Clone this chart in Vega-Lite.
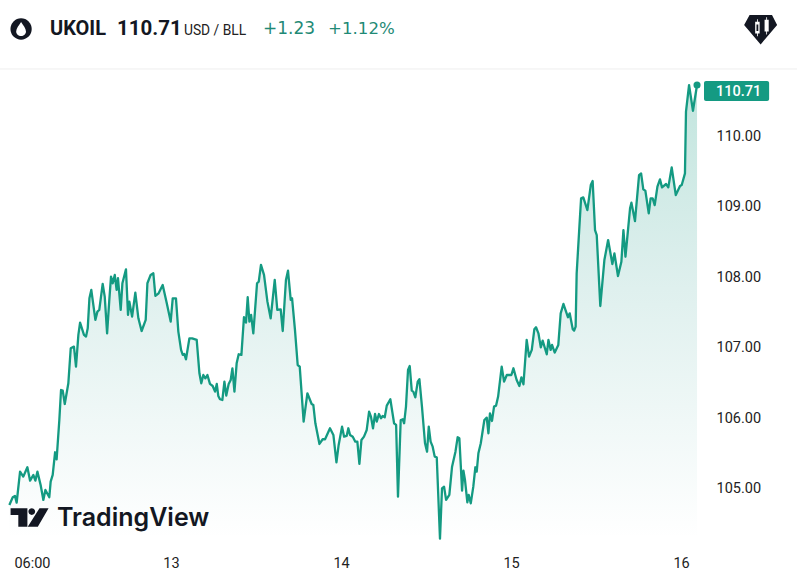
{"$schema":"https://vega.github.io/schema/vega-lite/v6.json","width":797,"height":578,"autosize":{"type":"none"},"padding":0,"background":"white","view":{"stroke":null},
"config":{"font":"Roboto"},
"datasets":{"series":[
{"t":12.049,"v":104.752},{"t":12.069,"v":104.861},{"t":12.082,"v":104.88},{"t":12.092,"v":104.785},{"t":12.112,"v":105.225},{"t":12.131,"v":105.154},{"t":12.155,"v":105.287},{"t":12.171,"v":105.097},{"t":12.19,"v":105.178},{"t":12.202,"v":105.097},{"t":12.214,"v":105.225},{"t":12.233,"v":105.036},{"t":12.249,"v":104.823},{"t":12.261,"v":104.965},{"t":12.284,"v":104.861},{"t":12.292,"v":105.083},{"t":12.304,"v":105.178},{"t":12.318,"v":105.5},{"t":12.327,"v":105.4},{"t":12.343,"v":105.959},{"t":12.353,"v":106.385},{"t":12.363,"v":106.376},{"t":12.375,"v":106.186},{"t":12.396,"v":106.48},{"t":12.41,"v":106.977},{"t":12.429,"v":107.001},{"t":12.441,"v":106.717},{"t":12.455,"v":107.167},{"t":12.465,"v":107.342},{"t":12.488,"v":107.167},{"t":12.5,"v":107.143},{"t":12.51,"v":107.261},{"t":12.52,"v":107.687},{"t":12.531,"v":107.806},{"t":12.555,"v":107.38},{"t":12.567,"v":107.498},{"t":12.578,"v":107.522},{"t":12.598,"v":107.891},{"t":12.61,"v":107.711},{"t":12.624,"v":107.19},{"t":12.637,"v":107.664},{"t":12.647,"v":107.995},{"t":12.657,"v":107.901},{"t":12.669,"v":108.019},{"t":12.68,"v":107.806},{"t":12.688,"v":107.972},{"t":12.704,"v":107.522},{"t":12.714,"v":107.901},{"t":12.735,"v":108.099},{"t":12.747,"v":107.451},{"t":12.755,"v":107.64},{"t":12.771,"v":107.427},{"t":12.79,"v":107.768},{"t":12.808,"v":107.403},{"t":12.827,"v":107.223},{"t":12.851,"v":107.38},{"t":12.861,"v":107.901},{"t":12.88,"v":108.019},{"t":12.896,"v":108.043},{"t":12.908,"v":107.721},{"t":12.927,"v":107.758},{"t":12.951,"v":107.877},{"t":12.975,"v":107.616},{"t":12.998,"v":107.356},{"t":13.01,"v":107.687},{"t":13.029,"v":107.687},{"t":13.043,"v":107.214},{"t":13.059,"v":106.954},{"t":13.069,"v":106.883},{"t":13.078,"v":106.897},{"t":13.088,"v":106.821},{"t":13.108,"v":107.119},{"t":13.124,"v":107.119},{"t":13.151,"v":107.096},{"t":13.167,"v":106.622},{"t":13.178,"v":106.48},{"t":13.19,"v":106.598},{"t":13.202,"v":106.551},{"t":13.214,"v":106.598},{"t":13.229,"v":106.471},{"t":13.245,"v":106.442},{"t":13.259,"v":106.362},{"t":13.269,"v":106.471},{"t":13.278,"v":106.3},{"t":13.288,"v":106.253},{"t":13.302,"v":106.243},{"t":13.314,"v":106.504},{"t":13.325,"v":106.305},{"t":13.339,"v":106.471},{"t":13.351,"v":106.527},{"t":13.361,"v":106.693},{"t":13.373,"v":106.362},{"t":13.386,"v":106.764},{"t":13.398,"v":106.892},{"t":13.414,"v":106.883},{"t":13.429,"v":107.418},{"t":13.441,"v":107.342},{"t":13.451,"v":107.702},{"t":13.461,"v":107.356},{"t":13.471,"v":107.451},{"t":13.484,"v":107.19},{"t":13.506,"v":107.901},{"t":13.516,"v":107.924},{"t":13.529,"v":108.161},{"t":13.547,"v":108.019},{"t":13.567,"v":107.64},{"t":13.586,"v":107.403},{"t":13.61,"v":107.948},{"t":13.625,"v":107.522},{"t":13.645,"v":107.531},{"t":13.657,"v":107.223},{"t":13.676,"v":107.948},{"t":13.688,"v":108.08},{"t":13.704,"v":107.664},{"t":13.712,"v":107.687},{"t":13.729,"v":107.238},{"t":13.745,"v":106.74},{"t":13.757,"v":106.717},{"t":13.78,"v":105.936},{"t":13.802,"v":106.338},{"t":13.827,"v":106.186},{"t":13.837,"v":106.172},{"t":13.849,"v":105.912},{"t":13.873,"v":105.618},{"t":13.892,"v":105.685},{"t":13.906,"v":105.685},{"t":13.935,"v":105.841},{"t":13.955,"v":105.746},{"t":13.973,"v":105.358},{"t":13.986,"v":105.604},{"t":14.006,"v":105.864},{"t":14.018,"v":105.722},{"t":14.033,"v":105.732},{"t":14.043,"v":105.841},{"t":14.053,"v":105.746},{"t":14.069,"v":105.722},{"t":14.084,"v":105.651},{"t":14.096,"v":105.651},{"t":14.108,"v":105.334},{"t":14.12,"v":105.675},{"t":14.135,"v":105.722},{"t":14.151,"v":105.817},{"t":14.165,"v":106.078},{"t":14.176,"v":106.007},{"t":14.188,"v":105.841},{"t":14.2,"v":106.044},{"t":14.21,"v":105.936},{"t":14.223,"v":106.044},{"t":14.235,"v":105.983},{"t":14.245,"v":106.016},{"t":14.257,"v":105.997},{"t":14.269,"v":106.163},{"t":14.29,"v":106.253},{"t":14.312,"v":105.912},{"t":14.324,"v":105.888},{"t":14.335,"v":104.87},{"t":14.351,"v":105.959},{"t":14.363,"v":105.969},{"t":14.371,"v":105.912},{"t":14.382,"v":106.149},{"t":14.394,"v":106.669},{"t":14.404,"v":106.726},{"t":14.416,"v":106.376},{"t":14.425,"v":106.362},{"t":14.437,"v":106.281},{"t":14.451,"v":106.504},{"t":14.461,"v":106.537},{"t":14.476,"v":106.149},{"t":14.494,"v":105.628},{"t":14.506,"v":105.509},{"t":14.516,"v":105.864},{"t":14.527,"v":105.651},{"t":14.539,"v":105.58},{"t":14.551,"v":105.438},{"t":14.563,"v":105.429},{"t":14.582,"v":104.274},{"t":14.594,"v":104.988},{"t":14.606,"v":105.012},{"t":14.618,"v":104.823},{"t":14.637,"v":104.894},{"t":14.653,"v":105.296},{"t":14.673,"v":105.509},{"t":14.686,"v":105.713},{"t":14.696,"v":105.699},{"t":14.712,"v":104.955},{"t":14.72,"v":105.239},{"t":14.729,"v":105.107},{"t":14.743,"v":104.79},{"t":14.751,"v":104.894},{"t":14.763,"v":104.775},{"t":14.778,"v":105.012},{"t":14.79,"v":105.287},{"t":14.798,"v":105.225},{"t":14.808,"v":105.486},{"t":14.822,"v":105.628},{"t":14.843,"v":105.959},{"t":14.857,"v":105.992},{"t":14.867,"v":105.77},{"t":14.876,"v":106.054},{"t":14.888,"v":105.945},{"t":14.9,"v":106.149},{"t":14.912,"v":106.163},{"t":14.924,"v":106.291},{"t":14.945,"v":106.717},{"t":14.959,"v":106.504},{"t":14.975,"v":106.598},{"t":15.002,"v":106.598},{"t":15.014,"v":106.693},{"t":15.033,"v":106.527},{"t":15.049,"v":106.442},{"t":15.061,"v":106.565},{"t":15.073,"v":106.466},{"t":15.092,"v":107.096},{"t":15.106,"v":106.859},{"t":15.122,"v":106.954},{"t":15.137,"v":107.247},{"t":15.147,"v":107.276},{"t":15.161,"v":107.19},{"t":15.175,"v":106.991},{"t":15.186,"v":107.086},{"t":15.21,"v":106.892},{"t":15.22,"v":107.096},{"t":15.233,"v":106.954},{"t":15.241,"v":107.025},{"t":15.257,"v":106.916},{"t":15.278,"v":107.025},{"t":15.292,"v":107.474},{"t":15.308,"v":107.607},{"t":15.335,"v":107.418},{"t":15.345,"v":107.474},{"t":15.363,"v":107.247},{"t":15.371,"v":107.228},{"t":15.38,"v":107.285},{"t":15.386,"v":108.042},{"t":15.402,"v":108.704},{"t":15.412,"v":109.107},{"t":15.425,"v":109.121},{"t":15.449,"v":108.941},{"t":15.469,"v":109.296},{"t":15.48,"v":109.353},{"t":15.494,"v":108.657},{"t":15.504,"v":108.586},{"t":15.525,"v":107.578},{"t":15.549,"v":108.231},{"t":15.571,"v":108.515},{"t":15.596,"v":108.174},{"t":15.608,"v":108.326},{"t":15.629,"v":108.004},{"t":15.649,"v":108.207},{"t":15.661,"v":108.657},{"t":15.673,"v":108.278},{"t":15.7,"v":108.965},{"t":15.708,"v":109.045},{"t":15.729,"v":108.785},{"t":15.753,"v":109.438},{"t":15.765,"v":109.462},{"t":15.778,"v":109.235},{"t":15.79,"v":109.216},{"t":15.81,"v":108.894},{"t":15.821,"v":109.107},{"t":15.833,"v":109.107},{"t":15.845,"v":109.012},{"t":15.861,"v":109.273},{"t":15.876,"v":109.377},{"t":15.888,"v":109.263},{"t":15.912,"v":109.311},{"t":15.925,"v":109.263},{"t":15.945,"v":109.547},{"t":15.969,"v":109.154},{"t":15.994,"v":109.282},{"t":16.004,"v":109.296},{"t":16.023,"v":109.462},{"t":16.029,"v":110.338},{"t":16.047,"v":110.717},{"t":16.07,"v":110.352},{"t":16.094,"v":110.717}
],
"ann":[{"id":"sep","label":""},{"id":"tag","label":""},{"id":"tagtext","label":"110.71"},{"id":"sym","label":"UKOIL"},{"id":"px","label":"110.71"},{"id":"unit","label":"USD / BLL"},{"id":"chg","label":"+1.23"},{"id":"pct","label":"+1.12%"},{"id":"disc","label":""},{"id":"drop","label":""},{"id":"gem","label":""},{"id":"tvm","label":""},{"id":"tv","label":"TradingView"}]},
"layer":[
{"data":{"name":"series"},"mark":{"type":"area","color":{"gradient":"linear","x1":0,"y1":0,"x2":0,"y2":1,"stops":[{"offset":0,"color":"#c2e5de"},{"offset":0.45,"color":"#dff0ee"},{"offset":1,"color":"#ffffff"}]}},"encoding":{
"x":{"field":"t","type":"quantitative","title":null,"scale":{"domain":[11.994,16.682],"nice":false,"zero":false},"axis":{"orient":"bottom","offset":-22,"values":[12.182,13,14,15,16],"labelExpr":"datum.value<13?'06:00':format(datum.value,'d')","domain":false,"ticks":false,"grid":false,"labelPadding":0,"labelFont":"Roboto","labelFontSize":14.5,"labelColor":"#222222","labelOverlap":false,"labelBound":false,"labelFlush":false}},
"y":{"field":"v","type":"quantitative","title":null,"scale":{"domain":[103.714,111.925],"nice":false,"zero":false},"axis":{"orient":"right","offset":-81,"values":[105,106,107,108,109,110],"format":".2f","domain":false,"ticks":false,"grid":false,"labelPadding":0,"labelOffset":1,"labelFont":"Roboto","labelFontSize":14.5,"labelColor":"#222222","labelAlign":"left"}},
"y2":{"datum":104.325}}},
{"data":{"name":"series"},"mark":{"type":"line","color":"#149a82","strokeWidth":2.3,"strokeJoin":"round"},"encoding":{"x":{"field":"t","type":"quantitative"},"y":{"field":"v","type":"quantitative"}}},
{"data":{"name":"series"},"transform":[{"filter":"datum.t>16.09"}],"mark":{"type":"point","filled":true,"color":"#149a82","size":50,"opacity":1,"strokeWidth":0},"encoding":{"x":{"field":"t","type":"quantitative"},"y":{"field":"v","type":"quantitative"}}},
{"data":{"name":"ann"},"transform":[{"filter":"datum.id==='sep'"}],"mark":{"type":"rule","color":"#eeeeee","strokeWidth":1},"encoding":{"x":{"datum":11.994,"type":"quantitative"},"x2":{"datum":16.682},"y":{"datum":110.945,"type":"quantitative"}}},
{"data":{"name":"ann"},"transform":[{"filter":"datum.id==='tag'"}],"mark":{"type":"rect","color":"#149a82","cornerRadius":2},"encoding":{"x":{"datum":16.135,"type":"quantitative"},"x2":{"datum":16.518},"y":{"datum":110.775,"type":"quantitative"},"y2":{"datum":110.49}}},
{"data":{"name":"ann"},"transform":[{"filter":"datum.id==='tagtext'"}],"mark":{"type":"text","align":"left","baseline":"middle","color":"white","fontSize":14.5,"fontWeight":500},"encoding":{"text":{"field":"label"},"x":{"datum":16.206,"type":"quantitative"},"y":{"datum":110.62,"type":"quantitative"}}},
{"data":{"name":"ann"},"transform":[{"filter":"datum.id==='sym'"}],"mark":{"type":"text","align":"left","baseline":"middle","color":"#131722","fontSize":20,"fontWeight":700},"encoding":{"text":{"field":"label"},"x":{"datum":12.288,"type":"quantitative"},"y":{"datum":111.513,"type":"quantitative"}}},
{"data":{"name":"ann"},"transform":[{"filter":"datum.id==='px'"}],"mark":{"type":"text","align":"left","baseline":"middle","color":"#131722","fontSize":20.5,"fontWeight":700},"encoding":{"text":{"field":"label"},"x":{"datum":12.682,"type":"quantitative"},"y":{"datum":111.513,"type":"quantitative"}}},
{"data":{"name":"ann"},"transform":[{"filter":"datum.id==='unit'"}],"mark":{"type":"text","align":"left","baseline":"middle","color":"#222222","fontSize":13.8},"encoding":{"text":{"field":"label"},"x":{"datum":13.076,"type":"quantitative"},"y":{"datum":111.49,"type":"quantitative"}}},
{"data":{"name":"ann"},"transform":[{"filter":"datum.id==='chg'"}],"mark":{"type":"text","align":"left","baseline":"middle","color":"#1f8a76","fontSize":17,"font":"DejaVu Sans"},"encoding":{"text":{"field":"label"},"x":{"datum":13.541,"type":"quantitative"},"y":{"datum":111.513,"type":"quantitative"}}},
{"data":{"name":"ann"},"transform":[{"filter":"datum.id==='pct'"}],"mark":{"type":"text","align":"left","baseline":"middle","color":"#1f8a76","fontSize":16.6,"font":"DejaVu Sans"},"encoding":{"text":{"field":"label"},"x":{"datum":13.924,"type":"quantitative"},"y":{"datum":111.513,"type":"quantitative"}}},
{"data":{"name":"ann"},"transform":[{"filter":"datum.id==='disc'"}],"mark":{"type":"point","shape":"circle","filled":true,"color":"#131722","opacity":1,"size":452,"strokeWidth":0},"encoding":{"x":{"datum":12.118,"type":"quantitative"},"y":{"datum":111.513,"type":"quantitative"}}},
{"data":{"name":"ann"},"transform":[{"filter":"datum.id==='drop'"}],"mark":{"type":"point","shape":"M0,-1 C0.3,-0.5 0.7,-0.1 0.7,0.35 A0.7,0.65 0 1 1 -0.7,0.35 C-0.7,-0.1 -0.3,-0.5 0,-1Z","filled":true,"color":"#ffffff","opacity":1,"size":196,"strokeWidth":0},"encoding":{"x":{"datum":12.118,"type":"quantitative"},"y":{"datum":111.513,"type":"quantitative"}}},
{"data":{"name":"ann"},"transform":[{"filter":"datum.id==='gem'"}],"mark":{"type":"point","shape":"M-0.67,-0.88 L0.69,-0.88 L1,-0.27 L0,0.9 L-1,-0.27Z M-0.22,-0.62 L-0.22,-0.47 L-0.33,-0.47 L-0.33,0.24 L-0.22,0.24 L-0.22,0.4 L-0.17,0.4 L-0.17,0.24 L-0.06,0.24 L-0.06,-0.47 L-0.17,-0.47 L-0.17,-0.62Z M-0.25,-0.3 L-0.14,-0.3 L-0.14,0.08 L-0.25,0.08Z M0.34,-0.75 L0.34,-0.6 L0.24,-0.6 L0.24,0.12 L0.34,0.12 L0.34,0.3 L0.39,0.3 L0.39,0.12 L0.49,0.12 L0.49,-0.6 L0.39,-0.6 L0.39,-0.75Z","filled":true,"color":"#131722","opacity":1,"size":1089,"strokeWidth":0},"encoding":{"x":{"datum":16.468,"type":"quantitative"},"y":{"datum":111.505,"type":"quantitative"}}},
{"data":{"name":"ann"},"transform":[{"filter":"datum.id==='tvm'"}],"mark":{"type":"point","shape":"M-1,-0.487 L-0.115,-0.487 L-0.115,0.487 L-0.593,0.487 L-0.593,-0.133 L-1,-0.133Z M-0.062,-0.31 A0.177,0.177 0 1 1 0.292,-0.31 A0.177,0.177 0 1 1 -0.062,-0.31Z M0.522,-0.487 L1,-0.487 L0.434,0.487 L-0.097,0.487Z","filled":true,"color":"#131722","opacity":1,"size":1444,"strokeWidth":0},"encoding":{"x":{"datum":12.168,"type":"quantitative"},"y":{"datum":104.574,"type":"quantitative"}}},
{"data":{"name":"ann"},"transform":[{"filter":"datum.id==='tv'"}],"mark":{"type":"text","align":"left","baseline":"middle","color":"#131722","fontSize":25,"fontWeight":600,"font":"Inter"},"encoding":{"text":{"field":"label"},"x":{"datum":12.329,"type":"quantitative"},"y":{"datum":104.56,"type":"quantitative"}}}
]}
